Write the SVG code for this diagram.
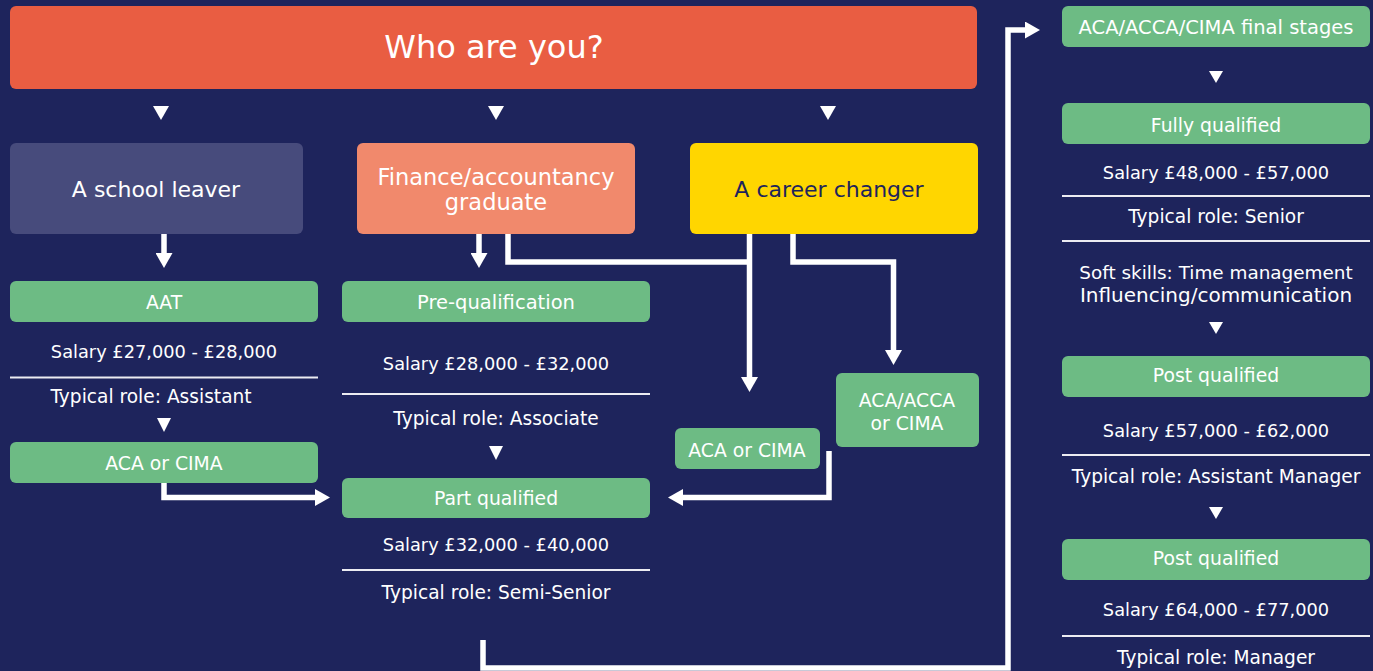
<svg xmlns="http://www.w3.org/2000/svg" width="1373" height="671" viewBox="0 0 1373 671">
<defs>
<style>
.t{font-family:"DejaVu Sans","Open Sans",sans-serif;fill:#ffffff;text-anchor:middle}
.h{font-size:32px}
.c{font-size:22px}
.b{font-size:18.8px}
.s{font-size:17.8px}
.r{font-size:18.6px}
.g{fill:#6DBB84}
.sep{stroke:#ECECF2;stroke-width:2}
.con{fill:none;stroke:#ffffff;stroke-width:5.5;stroke-linejoin:miter}
.tri{fill:#ffffff}
</style>
<marker id="ah" markerUnits="userSpaceOnUse" markerWidth="15" markerHeight="17" refX="0" refY="8.5" orient="auto" viewBox="0 0 15 17">
<path d="M0,0 L15,8.5 L0,17 Z" fill="#ffffff"/>
</marker>
</defs>
<rect width="1373" height="671" fill="#1E245C"/>

<g id="who">
<rect x="10" y="6" width="967" height="83" rx="6" fill="#E95D42"/>
<text class="t h" x="494" y="58">Who are you?</text>
</g>

<g id="triangles">
<polygon class="tri" points="153,106 169,106 161,120"/>
<polygon class="tri" points="488,106 504,106 496,120"/>
<polygon class="tri" points="820,106 836,106 828,120"/>
<polygon class="tri" points="157,418 171,418 164,432"/>
<polygon class="tri" points="489,446 503,446 496,460"/>
<polygon class="tri" points="1209,71 1223,71 1216,83"/>
<polygon class="tri" points="1209,322 1223,322 1216,334"/>
<polygon class="tri" points="1209,507 1223,507 1216,519"/>
</g>

<g id="school-leaver">
<rect x="10" y="143" width="293" height="91" rx="6" fill="#474B7C"/>
<text class="t c" x="156" y="197">A school leaver</text>
</g>
<g id="graduate">
<rect x="357" y="143" width="278" height="91" rx="6" fill="#F1896C"/>
<text class="t c" x="496" y="184.5" style="font-size:22.5px">Finance/accountancy</text>
<text class="t c" x="496" y="209.5" style="font-size:22.5px">graduate</text>
</g>
<g id="career-changer">
<rect x="690" y="143" width="288" height="91" rx="6" fill="#FFD600"/>
<text class="t c" x="829" y="197" style="fill:#1E245C">A career changer</text>
</g>

<g id="aat">
<rect class="g" x="10" y="281" width="308" height="41" rx="6"/>
<text class="t b" x="164" y="308.5">AAT</text>
<text class="t s" x="164" y="358">Salary £27,000 - £28,000</text>
<line class="sep" x1="10" y1="377.5" x2="318" y2="377.5"/>
<text class="t r" x="151" y="403">Typical role: Assistant</text>
</g>
<g id="aat-aca-cima">
<rect class="g" x="10" y="442" width="308" height="41" rx="6"/>
<text class="t b" x="164" y="469.5">ACA or CIMA</text>
</g>

<g id="pre-qualification">
<rect class="g" x="342" y="281" width="308" height="41" rx="6"/>
<text class="t b" x="496" y="308.5" style="font-size:19.5px">Pre-qualification</text>
<text class="t s" x="496" y="370">Salary £28,000 - £32,000</text>
<line class="sep" x1="342" y1="394" x2="650" y2="394"/>
<text class="t r" x="496" y="425">Typical role: Associate</text>
</g>

<g id="part-qualified">
<rect class="g" x="342" y="478" width="308" height="40" rx="6"/>
<text class="t b" x="496" y="504.5">Part qualified</text>
<text class="t s" x="496" y="551">Salary £32,000 - £40,000</text>
<line class="sep" x1="342" y1="570" x2="650" y2="570"/>
<text class="t r" x="496" y="599">Typical role: Semi-Senior</text>
</g>

<g id="career-aca-cima">
<rect class="g" x="675" y="428" width="145" height="41" rx="6"/>
<text class="t b" x="747" y="456.5">ACA or CIMA</text>
</g>
<g id="career-aca-acca-cima">
<rect class="g" x="836" y="373" width="143" height="74" rx="6"/>
<text class="t b" x="907" y="407">ACA/ACCA</text>
<text class="t b" x="907" y="430">or CIMA</text>
</g>

<g id="final-stages">
<rect class="g" x="1062" y="6" width="308" height="41" rx="6"/>
<text class="t b" x="1216" y="33.5" style="font-size:19.5px">ACA/ACCA/CIMA final stages</text>
</g>
<g id="fully-qualified">
<rect class="g" x="1062" y="103" width="308" height="41" rx="6"/>
<text class="t b" x="1216" y="131.5">Fully qualified</text>
<text class="t s" x="1216" y="179">Salary £48,000 - £57,000</text>
<line class="sep" x1="1062" y1="196" x2="1370" y2="196"/>
<text class="t r" x="1216" y="223">Typical role: Senior</text>
<line class="sep" x1="1062" y1="241" x2="1370" y2="241"/>
<text class="t r" x="1216" y="279" style="font-size:18.4px">Soft skills: Time management</text>
<text class="t r" x="1216" y="301.5" style="font-size:20px">Influencing/communication</text>
</g>
<g id="post-qualified-1">
<rect class="g" x="1062" y="356" width="308" height="41" rx="6"/>
<text class="t b" x="1216" y="381.5">Post qualified</text>
<text class="t s" x="1216" y="437">Salary £57,000 - £62,000</text>
<line class="sep" x1="1062" y1="455" x2="1370" y2="455"/>
<text class="t r" x="1216" y="483">Typical role: Assistant Manager</text>
</g>
<g id="post-qualified-2">
<rect class="g" x="1062" y="539" width="308" height="41" rx="6"/>
<text class="t b" x="1216" y="564.5">Post qualified</text>
<text class="t s" x="1216" y="616">Salary £64,000 - £77,000</text>
<line class="sep" x1="1062" y1="636" x2="1370" y2="636"/>
<text class="t r" x="1216" y="664">Typical role: Manager</text>
</g>

<g id="connectors">
<path class="con" d="M164,234 V253" marker-end="url(#ah)"/>
<path class="con" d="M479,234 V253" marker-end="url(#ah)"/>
<path class="con" d="M508,234 V262 H749.5"/>
<path class="con" d="M749.5,234 V377" marker-end="url(#ah)"/>
<path class="con" d="M793,234 V262 H893.5 V350" marker-end="url(#ah)"/>
<path class="con" d="M829,451 V497.5 H683" marker-end="url(#ah)"/>
<path class="con" d="M164,483 V497.5 H315" marker-end="url(#ah)"/>
<path class="con" d="M483,640 V668 H1008 V30 H1025" marker-end="url(#ah)"/>
</g>
</svg>
